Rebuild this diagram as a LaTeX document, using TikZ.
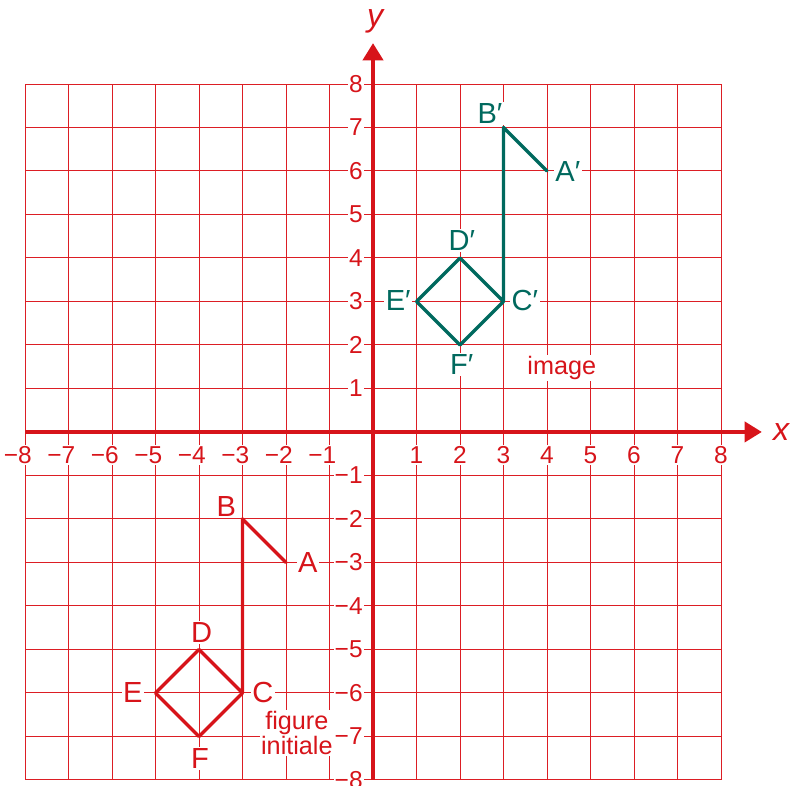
\documentclass[tikz,border=0pt]{standalone}
\usepackage{fontspec}
\setmainfont{Liberation Sans}
\usetikzlibrary{arrows.meta}
\definecolor{repRed}{HTML}{D7141A}
\definecolor{repGrid}{HTML}{DC1E24}
\definecolor{repGreen}{HTML}{00695E}

\begin{document}
\begin{tikzpicture}[
    >={Triangle[length=4mm,width=4.6mm]},
    line width=0.6pt,
    every node/.style={font=\fontsize{16}{19}\selectfont, inner sep=1.5pt},
    tick/.style={fill=white, text=repRed, inner sep=0.8pt},
    pt/.style={font=\fontsize{19}{22}\selectfont, fill=white, inner sep=1pt},
    figline/.style={line width=2.2pt, line join=round, line cap=round},
  ]
  \useasboundingbox (-8.575,-8.138) rectangle (9.586,9.93);

  % Grid
  \draw[repGrid] (-8,-8) grid (8,8);

  % Graduations
  \foreach \k in {1,...,8} {
    \node[tick] (xp\k) at (\k,-0.53) {\k};
    \node[tick] (xm\k) at (-\k,-0.53) {\llap{−}\k};
    \node[tick,anchor=east] (yp\k) at (-0.2,\k) {\k};
    \node[tick,anchor=east] (ym\k) at (-0.2,-\k) {−\k};
  }

  % Axes
  \draw[->,repRed,line width=3pt] (-8,0) -- (8.94,0);
  \draw[->,repRed,line width=3pt] (0,-8) -- (0,8.94);
  \node[text=repRed,font=\fontsize{21}{25}\selectfont\itshape] (xlab) at (9.38,0) {x};
  \node[text=repRed,font=\fontsize{21}{25}\selectfont\itshape] (ylab) at (0.05,9.43) {y};

  % Figure initiale
  \coordinate (A) at (-2,-3);
  \coordinate (B) at (-3,-2);
  \coordinate (C) at (-3,-6);
  \coordinate (D) at (-4,-5);
  \coordinate (E) at (-5,-6);
  \coordinate (F) at (-4,-7);
  \draw[repRed,figline] (A) -- (B) -- (C) -- (D) -- (E) -- (F) -- (C);
  \node[pt,text=repRed] (lA) at (-1.5,-3) {A};
  \node[pt,text=repRed] (lB) at (-3.37,-1.72) {B};
  \node[pt,text=repRed] (lC) at (-2.53,-6) {C};
  \node[pt,text=repRed] (lD) at (-3.94,-4.62) {D};
  \node[pt,text=repRed] (lE) at (-5.52,-6) {E};
  \node[pt,text=repRed] (lF) at (-3.98,-7.5) {F};
  \node[fill=white,text=repRed,align=center,inner sep=1pt,
        font=\fontsize{16.5}{16.5}\selectfont] (fig) at (-1.75,-6.92) {figure\\initiale};

  % Image
  \coordinate (Ap) at (4,6);
  \coordinate (Bp) at (3,7);
  \coordinate (Cp) at (3,3);
  \coordinate (Dp) at (2,4);
  \coordinate (Ep) at (1,3);
  \coordinate (Fp) at (2,2);
  \draw[repGreen,figline] (Ap) -- (Bp) -- (Cp) -- (Dp) -- (Ep) -- (Fp) -- (Cp);
  \node[pt,text=repGreen] (lAp) at (4.48,5.98) {A′};
  \node[pt,text=repGreen] (lBp) at (2.69,7.33) {B′};
  \node[pt,text=repGreen] (lCp) at (3.49,3.03) {C′};
  \node[pt,text=repGreen] (lDp) at (2.04,4.41) {D′};
  \node[pt,text=repGreen] (lEp) at (0.58,3.03) {E′};
  \node[pt,text=repGreen] (lFp) at (2.04,1.54) {F′};
  \node[fill=white,text=repRed,inner sep=1pt,
        font=\fontsize{16.5}{19}\selectfont] (img) at (4.34,1.47) {image};
\end{tikzpicture}
\end{document}
